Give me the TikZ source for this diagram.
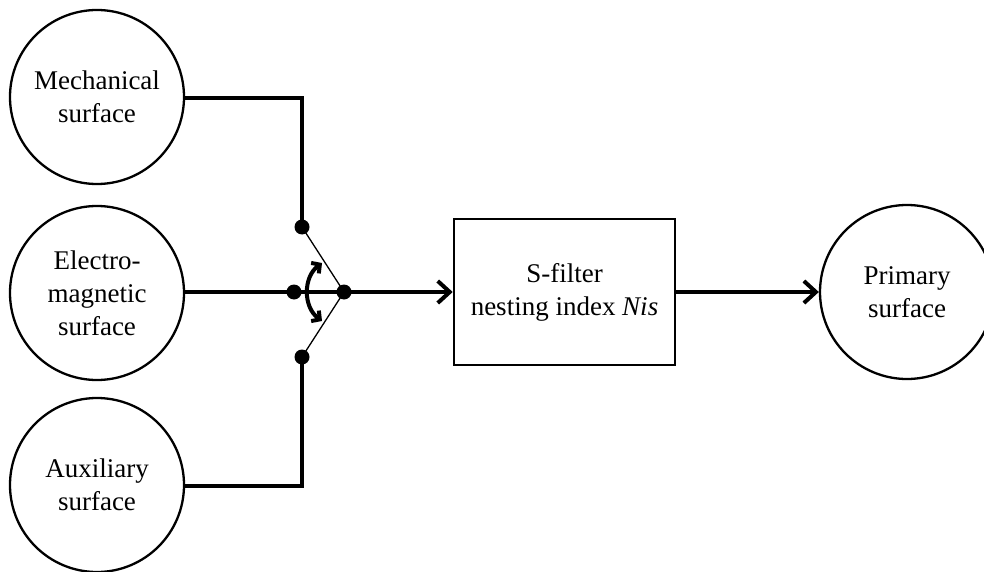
\documentclass[tikz,border=0pt]{standalone}
\usepackage{fontspec}
\setmainfont{Liberation Serif}
\usetikzlibrary{arrows.meta}
\begin{document}
\begin{tikzpicture}[x=1pt,y=-1pt,
  txt/.style={align=center,font=\fontsize{27}{33}\selectfont},
  surf/.style={txt,circle,draw,line width=2.3pt,minimum size=174pt,inner sep=0pt},
  dot/.style={circle,fill,inner sep=0pt,minimum size=15pt},
  wire/.style={line width=4pt},
  thinwire/.style={line width=1.3pt},
  arr/.style={-{Straight Barb[length=12pt,width=22pt]}},
  darr/.style={{Straight Barb[length=6pt,width=13pt]}-{Straight Barb[length=6pt,width=13pt]}}
]
\useasboundingbox (0,0) rectangle (984,572);
\node[surf] (m) at (97,97) {Mechanical\\surface};
\node[surf] (e) at (97,293) {Electro-\\magnetic\\surface};
\node[surf] (a) at (97,485) {Auxiliary\\surface};
\node[surf] (p) at (907,292) {Primary\\surface};
\node[txt,draw,line width=2.6pt,minimum width=221pt,minimum height=146pt,inner sep=0pt] (b) at (564.5,292) {S-filter\\nesting index \textit{Nis}};
\node[dot] (du) at (302,227) {};
\node[dot] (dl) at (294,292) {};
\node[dot] (dr) at (344,292) {};
\node[dot] (dd) at (302,357) {};
\coordinate (mc) at (302,98);
\coordinate (ac) at (302,486);
\coordinate (ct) at (322,263);
\coordinate (cb) at (322,321);
\draw[wire] (m.east |- mc) -- (mc) -- (du.center);
\draw[wire] (a.east |- ac) -- (ac) -- (dd.center);
\draw[wire,arr] (e.east |- b.west) -- (b.west);
\draw[wire,arr] (b.east) -- (p.west);
\draw[thinwire] (du.center) -- (dr.center) -- (dd.center);
\draw[wire,darr] (ct) .. controls (303,277) and (303,307) .. (cb);
\end{tikzpicture}
\end{document}
